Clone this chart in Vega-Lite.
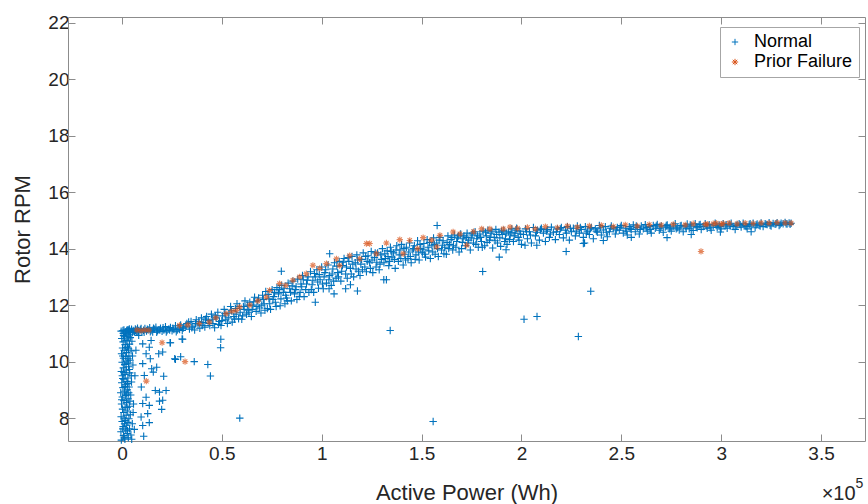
{
"$schema": "https://vega.github.io/schema/vega-lite/v6.json",
"width": 797, "height": 424,
"autosize": {"type": "none"},
"padding": {"left": 68, "top": 17, "right": 3, "bottom": 63},
"config": {
 "view": {"stroke": null},
 "font": "Liberation Sans",
 "axis": {"grid": false, "domainColor": "#8c8c8c", "tickColor": "#8c8c8c", "labelColor": "#262626", "titleColor": "#262626", "labelFontSize": 19, "titleFontSize": 22, "titleFontWeight": "normal", "tickSize": -7, "labelFont": "Liberation Sans", "titleFont": "Liberation Sans"},
 "legend": {"orient": "none", "legendX": 652, "legendY": 10, "padding": 6, "labelFontSize": 18, "labelFont": "Liberation Sans", "labelColor": "#000000", "symbolSize": 40, "symbolStrokeWidth": 1, "strokeColor": "#a6a6a6", "fillColor": "#ffffff", "rowPadding": 2, "labelOffset": 10}
},
"datasets": {
 "normal": [
{"P":3200,"R":11.12},{"P":4100,"R":11.08},{"P":4800,"R":11.15},{"P":5600,"R":11.1},{"P":6300,"R":11.05},{"P":7000,"R":11.13},{"P":7800,"R":11.18},{"P":8500,"R":11.09},{"P":9200,"R":11.14},{"P":10000,"R":11.06},{"P":10800,"R":11.11},{"P":11500,"R":11.17},{"P":12300,"R":11.08},{"P":13100,"R":11.13},{"P":13900,"R":11.2},{"P":14600,"R":11.1},{"P":15400,"R":11.05},{"P":16200,"R":11.15},{"P":17000,"R":11.22},{"P":17800,"R":11.09},{"P":18500,"R":11.13},{"P":19300,"R":11.18},{"P":20100,"R":11.07},{"P":21000,"R":11.12},{"P":21800,"R":11.24},{"P":22600,"R":11.1},{"P":23500,"R":11.16},{"P":24300,"R":11.21},{"P":25100,"R":11.09},{"P":26000,"R":11.14},{"P":26800,"R":11.27},{"P":27700,"R":11.12},{"P":28500,"R":11.19},{"P":29400,"R":11.3},{"P":30200,"R":11.1},{"P":31000,"R":11.22},
{"P":3700,"R":11.16},{"P":5200,"R":11.03},{"P":6700,"R":11.16},{"P":8000,"R":11.06},{"P":9600,"R":11.17},{"P":11100,"R":11.04},{"P":12700,"R":11.15},{"P":14200,"R":11.06},{"P":15800,"R":11.18},{"P":17400,"R":11.04},{"P":19000,"R":11.12},{"P":20600,"R":11.2},{"P":22200,"R":11.05},{"P":23900,"R":11.12},{"P":25500,"R":11.18},{"P":27200,"R":11.06},{"P":28900,"R":11.14},
{"P":32500,"R":11.35},{"P":33800,"R":11.15},{"P":34600,"R":11.42},{"P":35500,"R":11.25},{"P":36400,"R":11.12},{"P":37200,"R":11.48},{"P":38100,"R":11.3},
{"P":39000,"R":11.18},{"P":39800,"R":11.55},{"P":40700,"R":11.38},{"P":41500,"R":11.22},{"P":42400,"R":11.6},{"P":43200,"R":11.45},{"P":44000,"R":11.28},
{"P":44800,"R":11.68},{"P":45600,"R":11.35},{"P":46400,"R":11.2},{"P":47200,"R":11.55},{"P":48000,"R":11.75},{"P":48800,"R":11.42},
{"P":49600,"R":11.28},{"P":50400,"R":11.62},{"P":51200,"R":11.85},{"P":52000,"R":11.48},{"P":52800,"R":11.35},{"P":53600,"R":11.72},{"P":54400,"R":11.95},
{"P":30600,"R":11.18},{"P":32000,"R":11.25},{"P":33400,"R":11.4},{"P":35000,"R":11.2},{"P":36800,"R":11.35},{"P":38500,"R":11.42},{"P":40200,"R":11.28},{"P":41800,"R":11.5},{"P":43600,"R":11.35},{"P":45200,"R":11.5},{"P":46800,"R":11.62},{"P":48400,"R":11.32},{"P":50000,"R":11.45},{"P":51600,"R":11.7},{"P":53200,"R":11.55},{"P":54800,"R":11.8},
{"P":55200,"R":11.4},{"P":56000,"R":11.6},{"P":56800,"R":11.88},{"P":57600,"R":12.05},{"P":58400,"R":11.52},{"P":59200,"R":11.75},
{"P":60000,"R":11.5},{"P":60800,"R":11.95},{"P":61600,"R":12.15},{"P":62400,"R":11.68},{"P":63200,"R":11.82},{"P":64000,"R":12.1},
{"P":64800,"R":11.6},{"P":65600,"R":12.0},{"P":66400,"R":12.28},{"P":67200,"R":11.78},{"P":68000,"R":12.15},{"P":68800,"R":11.9},
{"P":69600,"R":11.72},{"P":70400,"R":12.35},{"P":71200,"R":12.05},{"P":72000,"R":12.48},{"P":72800,"R":11.88},{"P":73600,"R":12.22},
{"P":74400,"R":11.85},{"P":75200,"R":12.55},{"P":76000,"R":12.3},{"P":76800,"R":12.1},{"P":77600,"R":12.62},{"P":78400,"R":12.4},{"P":79200,"R":11.98},
{"P":80000,"R":12.7},{"P":80800,"R":12.45},{"P":81600,"R":12.05},{"P":82400,"R":12.25},{"P":83200,"R":12.78},{"P":84000,"R":12.58},
{"P":84800,"R":12.15},{"P":85600,"R":12.85},{"P":86400,"R":12.4},{"P":87200,"R":12.65},{"P":88000,"R":12.92},{"P":88800,"R":12.3},
{"P":89600,"R":12.75},{"P":90400,"R":13.05},{"P":91200,"R":12.3},{"P":92000,"R":12.55},{"P":92800,"R":12.88},{"P":93600,"R":12.45},
{"P":94400,"R":13.18},{"P":95200,"R":12.72},{"P":96000,"R":12.45},{"P":96800,"R":13.0},{"P":97600,"R":13.25},{"P":98400,"R":12.6},
{"P":56400,"R":11.5},{"P":57200,"R":11.68},{"P":58800,"R":11.95},{"P":60400,"R":11.62},{"P":61200,"R":11.85},{"P":62800,"R":12.0},{"P":63600,"R":11.75},{"P":65200,"R":11.85},{"P":66000,"R":12.12},{"P":67600,"R":11.95},{"P":68400,"R":12.25},{"P":70000,"R":12.0},{"P":70800,"R":12.2},{"P":71600,"R":11.82},{"P":73200,"R":12.38},{"P":74000,"R":12.05},{"P":75600,"R":12.2},{"P":76400,"R":12.45},{"P":77200,"R":11.95},{"P":78800,"R":12.55},{"P":79600,"R":12.22},{"P":81200,"R":12.6},{"P":82000,"R":12.35},{"P":82800,"R":12.15},{"P":84400,"R":12.45},{"P":85200,"R":12.68},{"P":86800,"R":12.55},{"P":87600,"R":12.2},{"P":89200,"R":12.45},{"P":90000,"R":12.65},{"P":90800,"R":12.9},{"P":92400,"R":12.75},{"P":93200,"R":13.0},{"P":94800,"R":12.55},{"P":95600,"R":12.88},{"P":96400,"R":13.12},{"P":98000,"R":12.82},{"P":98800,"R":13.08},
{"P":99200,"R":12.9},{"P":100000,"R":13.35},{"P":100800,"R":12.58},{"P":101600,"R":13.15},{"P":102400,"R":12.78},{"P":103200,"R":13.42},{"P":104000,"R":13.05},
{"P":104800,"R":12.7},{"P":105600,"R":13.28},{"P":106400,"R":13.5},{"P":107200,"R":12.95},{"P":108000,"R":13.15},{"P":108800,"R":13.55},
{"P":109600,"R":12.85},{"P":110400,"R":13.4},{"P":111200,"R":13.65},{"P":112000,"R":13.1},{"P":112800,"R":12.95},{"P":113600,"R":13.55},
{"P":114400,"R":13.3},{"P":115200,"R":13.72},{"P":116000,"R":13.0},{"P":116800,"R":13.5},{"P":117600,"R":13.78},{"P":118400,"R":13.2},
{"P":119200,"R":13.05},{"P":120000,"R":13.62},{"P":120800,"R":13.85},{"P":121600,"R":13.35},{"P":122400,"R":13.18},{"P":123200,"R":13.75},
{"P":124000,"R":13.5},{"P":124800,"R":13.9},{"P":125600,"R":13.15},{"P":126400,"R":13.68},{"P":127200,"R":13.35},{"P":128000,"R":13.85},
{"P":128800,"R":13.25},{"P":129600,"R":13.78},{"P":130400,"R":14.0},{"P":131200,"R":13.5},{"P":132000,"R":13.65},{"P":132800,"R":13.92},
{"P":133600,"R":13.4},{"P":134400,"R":14.05},{"P":135200,"R":13.7},{"P":136000,"R":13.85},{"P":136800,"R":13.3},{"P":137600,"R":14.1},
{"P":138400,"R":13.55},{"P":139200,"R":13.95},{"P":140000,"R":14.15},{"P":140800,"R":13.42},{"P":141600,"R":13.8},{"P":142400,"R":14.05},
{"P":143200,"R":13.65},{"P":144000,"R":14.2},{"P":144800,"R":13.5},{"P":145600,"R":13.95},{"P":146400,"R":14.1},{"P":147200,"R":13.78},
{"P":148000,"R":14.28},{"P":148800,"R":13.6},{"P":149600,"R":14.0},{"P":150400,"R":13.85},{"P":151200,"R":14.18},{"P":152000,"R":13.7},
{"P":152800,"R":14.32},{"P":153600,"R":13.92},{"P":154400,"R":13.65},{"P":155200,"R":14.1},{"P":156000,"R":14.38},{"P":156800,"R":13.8},
{"P":157600,"R":14.2},{"P":158400,"R":13.72},{"P":159200,"R":14.4},{"P":160000,"R":13.95},{"P":160800,"R":14.28},{"P":161600,"R":14.05},
{"P":162400,"R":13.8},{"P":163200,"R":14.45},{"P":164000,"R":14.15},{"P":164800,"R":14.32},{"P":165600,"R":13.95},{"P":166400,"R":14.48},
{"P":167200,"R":14.05},{"P":168000,"R":14.38},{"P":168800,"R":13.88},{"P":169600,"R":14.52},{"P":170400,"R":14.22},{"P":171200,"R":14.45},
{"P":172000,"R":14.1},{"P":172800,"R":14.55},{"P":173600,"R":14.3},{"P":174400,"R":13.95},{"P":175200,"R":14.48},{"P":176000,"R":14.2},
{"P":176800,"R":14.6},{"P":177600,"R":14.35},{"P":178400,"R":14.05},{"P":179200,"R":14.52},{"P":180000,"R":14.25},{"P":180800,"R":14.62},
{"P":181600,"R":14.1},{"P":182400,"R":14.45},{"P":183200,"R":14.65},{"P":184000,"R":14.3},{"P":184800,"R":14.55},{"P":185600,"R":14.02},
{"P":186400,"R":14.4},{"P":187200,"R":14.68},{"P":188000,"R":14.2},{"P":188800,"R":14.58},{"P":189600,"R":14.08},{"P":190400,"R":14.5},
{"P":191200,"R":14.65},{"P":192000,"R":14.35},{"P":192800,"R":14.15},{"P":193600,"R":14.6},{"P":194400,"R":14.48},{"P":195200,"R":14.7},
{"P":196000,"R":14.25},{"P":196800,"R":14.55},{"P":197600,"R":14.72},{"P":198400,"R":14.4},{"P":199200,"R":14.62},{"P":200000,"R":14.15},
{"P":100400,"R":12.75},{"P":101200,"R":13.0},{"P":102000,"R":13.25},{"P":103600,"R":12.9},{"P":105200,"R":13.1},{"P":106000,"R":12.85},{"P":107600,"R":13.38},{"P":108400,"R":13.0},{"P":110000,"R":13.2},{"P":110800,"R":13.52},{"P":112400,"R":13.35},{"P":113200,"R":13.68},{"P":114800,"R":13.1},{"P":115600,"R":13.45},{"P":117200,"R":13.28},{"P":118000,"R":13.6},{"P":119600,"R":13.45},{"P":120400,"R":13.25},{"P":122000,"R":13.72},{"P":122800,"R":13.55},{"P":124400,"R":13.3},{"P":125200,"R":13.6},{"P":126800,"R":13.85},{"P":127600,"R":13.52},{"P":129200,"R":13.45},{"P":130000,"R":13.62},{"P":131600,"R":13.82},{"P":133200,"R":13.72},{"P":134000,"R":13.55},{"P":134800,"R":13.9},{"P":136400,"R":13.62},{"P":137200,"R":13.95},{"P":138800,"R":13.78},{"P":139600,"R":13.65},{"P":141200,"R":14.0},{"P":142000,"R":13.6},{"P":143600,"R":13.88},{"P":144400,"R":13.72},{"P":146000,"R":14.0},{"P":146800,"R":13.62},{"P":148400,"R":13.88},{"P":149200,"R":14.15},{"P":150800,"R":13.98},{"P":151600,"R":13.8},{"P":153200,"R":14.05},{"P":154000,"R":14.22},{"P":155600,"R":13.88},{"P":156400,"R":14.15},{"P":158000,"R":14.0},{"P":158800,"R":14.3},{"P":160400,"R":14.12},{"P":161200,"R":13.82},{"P":162800,"R":14.22},{"P":163600,"R":14.0},{"P":165200,"R":14.4},{"P":166000,"R":14.1},{"P":167600,"R":14.25},{"P":168400,"R":14.45},{"P":170000,"R":14.0},{"P":170800,"R":14.35},{"P":172400,"R":14.4},{"P":173200,"R":14.2},{"P":174800,"R":14.38},{"P":175600,"R":14.55},{"P":177200,"R":14.15},{"P":178000,"R":14.45},{"P":179600,"R":14.4},{"P":180400,"R":14.05},{"P":182000,"R":14.58},{"P":182800,"R":14.22},{"P":184400,"R":14.4},{"P":185200,"R":14.62},{"P":186800,"R":14.28},{"P":187600,"R":14.5},{"P":189200,"R":14.38},{"P":190000,"R":14.62},{"P":191600,"R":14.25},{"P":192400,"R":14.55},{"P":194000,"R":14.32},{"P":194800,"R":14.58},{"P":196400,"R":14.45},{"P":197200,"R":14.65},{"P":198800,"R":14.3},{"P":199600,"R":14.52},
{"P":201000,"R":14.5},{"P":202000,"R":14.7},{"P":203000,"R":14.35},{"P":204000,"R":14.6},{"P":205000,"R":14.2},{"P":206000,"R":14.75},
{"P":207000,"R":14.45},{"P":208000,"R":14.65},{"P":209000,"R":14.3},{"P":210000,"R":14.72},{"P":211000,"R":14.55},{"P":212000,"R":14.25},
{"P":213000,"R":14.68},{"P":214000,"R":14.4},{"P":215000,"R":14.76},{"P":216000,"R":14.58},{"P":217000,"R":14.32},{"P":218000,"R":14.7},
{"P":219000,"R":14.5},{"P":220000,"R":14.75},{"P":221000,"R":14.38},{"P":222000,"R":14.65},{"P":223000,"R":14.78},{"P":224000,"R":14.3},
{"P":225000,"R":14.6},{"P":226000,"R":14.72},{"P":227000,"R":14.45},{"P":228000,"R":14.8},{"P":229000,"R":14.55},{"P":230000,"R":14.68},
{"P":231000,"R":14.4},{"P":232000,"R":14.78},{"P":233000,"R":14.62},{"P":234000,"R":14.5},{"P":235000,"R":14.75},{"P":236000,"R":14.35},
{"P":237000,"R":14.7},{"P":238000,"R":14.58},{"P":239000,"R":14.82},{"P":240000,"R":14.48},{"P":241000,"R":14.66},{"P":242000,"R":14.78},
{"P":243000,"R":14.42},{"P":244000,"R":14.6},{"P":245000,"R":14.8},{"P":246000,"R":14.7},{"P":247000,"R":14.52},{"P":248000,"R":14.75},
{"P":249000,"R":14.65},{"P":250000,"R":14.82},{"P":251000,"R":14.55},{"P":252000,"R":14.72},{"P":253000,"R":14.48},{"P":254000,"R":14.78},
{"P":255000,"R":14.68},{"P":256000,"R":14.84},{"P":257000,"R":14.6},{"P":258000,"R":14.75},{"P":259000,"R":14.52},{"P":260000,"R":14.8},
{"P":261000,"R":14.7},{"P":262000,"R":14.85},{"P":263000,"R":14.62},{"P":264000,"R":14.78},{"P":265000,"R":14.55},{"P":266000,"R":14.82},
{"P":267000,"R":14.72},{"P":268000,"R":14.86},{"P":269000,"R":14.65},{"P":270000,"R":14.8},{"P":271000,"R":14.58},{"P":272000,"R":14.76},
{"P":273000,"R":14.84},{"P":274000,"R":14.7},{"P":275000,"R":14.62},{"P":276000,"R":14.8},{"P":277000,"R":14.88},{"P":278000,"R":14.74},
{"P":279000,"R":14.66},{"P":280000,"R":14.82},{"P":281000,"R":14.6},{"P":282000,"R":14.77},{"P":283000,"R":14.87},{"P":284000,"R":14.7},
{"P":285000,"R":14.8},{"P":286000,"R":14.64},{"P":287000,"R":14.88},{"P":288000,"R":14.74},{"P":289000,"R":14.84},{"P":290000,"R":14.68},
{"P":291000,"R":14.78},{"P":292000,"R":14.88},{"P":293000,"R":14.72},{"P":294000,"R":14.85},{"P":295000,"R":14.65},{"P":296000,"R":14.8},
{"P":297000,"R":14.9},{"P":298000,"R":14.75},{"P":299000,"R":14.84},{"P":300000,"R":14.7},{"P":301000,"R":14.88},{"P":302000,"R":14.8},
{"P":303000,"R":14.72},{"P":304000,"R":14.86},{"P":305000,"R":14.9},{"P":306000,"R":14.78},{"P":307000,"R":14.68},{"P":308000,"R":14.84},
{"P":309000,"R":14.88},{"P":310000,"R":14.76},{"P":311000,"R":14.9},{"P":312000,"R":14.82},{"P":313000,"R":14.7},{"P":314000,"R":14.86},
{"P":315000,"R":14.8},{"P":316000,"R":14.9},{"P":317000,"R":14.74},{"P":318000,"R":14.87},{"P":319000,"R":14.83},{"P":320000,"R":14.91},
{"P":321000,"R":14.78},{"P":322000,"R":14.88},{"P":323000,"R":14.85},{"P":324000,"R":14.92},{"P":325000,"R":14.8},{"P":326000,"R":14.89},
{"P":327000,"R":14.86},{"P":328000,"R":14.92},{"P":329000,"R":14.82},{"P":330000,"R":14.9},{"P":331000,"R":14.88},{"P":332000,"R":14.93},{"P":333000,"R":14.87},{"P":334000,"R":14.91},{"P":335000,"R":14.9},
{"P":202500,"R":14.6},{"P":204500,"R":14.48},{"P":207500,"R":14.58},{"P":209500,"R":14.68},{"P":212500,"R":14.62},{"P":214500,"R":14.52},{"P":217500,"R":14.6},{"P":219500,"R":14.7},{"P":222500,"R":14.55},{"P":224500,"R":14.72},{"P":227500,"R":14.62},{"P":229500,"R":14.75},{"P":232500,"R":14.55},{"P":234500,"R":14.7},{"P":237500,"R":14.62},{"P":239500,"R":14.74},{"P":242500,"R":14.58},{"P":244500,"R":14.72},{"P":247500,"R":14.66},{"P":249500,"R":14.76},{"P":252500,"R":14.62},{"P":254500,"R":14.7},{"P":257500,"R":14.8},{"P":259500,"R":14.68},{"P":262500,"R":14.75},{"P":264500,"R":14.68},{"P":267500,"R":14.8},{"P":269500,"R":14.72},{"P":272500,"R":14.82},{"P":274500,"R":14.76},{"P":277500,"R":14.7},{"P":279500,"R":14.8},{"P":282500,"R":14.72},{"P":284500,"R":14.84},{"P":287500,"R":14.78},{"P":289500,"R":14.86},{"P":292500,"R":14.8},{"P":294500,"R":14.74},{"P":297500,"R":14.82},{"P":299500,"R":14.78},{"P":302500,"R":14.85},{"P":304500,"R":14.8},{"P":307500,"R":14.82},{"P":309500,"R":14.85},{"P":312500,"R":14.78},{"P":314500,"R":14.88},{"P":317500,"R":14.84},{"P":319500,"R":14.8},{"P":322500,"R":14.86},{"P":324500,"R":14.83},{"P":327500,"R":14.88},{"P":329500,"R":14.85},{"P":332500,"R":14.88},{"P":334500,"R":14.86},
{"P":192300,"R":13.96},{"P":201800,"R":14.12},{"P":207700,"R":14.12},{"P":231000,"R":14.18},{"P":241000,"R":14.29},{"P":272900,"R":14.39},{"P":299600,"R":14.59},{"P":255000,"R":14.4},{"P":285000,"R":14.5},{"P":315000,"R":14.6},
{"P":157800,"R":14.82},{"P":104000,"R":13.82},{"P":79800,"R":13.2},{"P":188900,"R":13.7},{"P":222400,"R":13.9},{"P":231600,"R":14.2},{"P":180600,"R":13.19},
{"P":132400,"R":12.9},{"P":131100,"R":12.9},{"P":117900,"R":12.5},{"P":106200,"R":12.4},{"P":96800,"R":12.1},{"P":103700,"R":12.58},{"P":112000,"R":12.58},{"P":114400,"R":12.72},
{"P":134300,"R":11.1},{"P":155800,"R":7.88},{"P":201300,"R":11.5},{"P":207800,"R":11.6},{"P":228500,"R":10.89},{"P":234700,"R":12.49},{"P":59000,"R":8.0},
{"P":24100,"R":10.67},{"P":30100,"R":10.8},{"P":26800,"R":10.08},{"P":29400,"R":10.17},{"P":36200,"R":10.0},{"P":43000,"R":9.9},{"P":44300,"R":9.49},{"P":49500,"R":10.79},{"P":49400,"R":10.49},{"P":20400,"R":10.34},{"P":18400,"R":10.28},{"P":14200,"R":10.1},{"P":14900,"R":9.75},{"P":17400,"R":9.8},{"P":20900,"R":9.48},{"P":15700,"R":9.63},{"P":16700,"R":8.98},{"P":18800,"R":8.92},{"P":18800,"R":8.6},{"P":19900,"R":8.31},{"P":13700,"R":8.45},{"P":12900,"R":8.16},{"P":13700,"R":7.84},{"P":10400,"R":7.74},{"P":10900,"R":7.36},{"P":9600,"R":8.04},{"P":10400,"R":8.52},{"P":12100,"R":8.74},{"P":9700,"R":9.1},{"P":11200,"R":9.51},{"P":10400,"R":9.93},{"P":12100,"R":10.28},{"P":13700,"R":10.51},{"P":10400,"R":10.63},{"P":14600,"R":10.75},{"P":8400,"R":10.93},{"P":22100,"R":8.98},{"P":20400,"R":8.63},{"P":30400,"R":10.79},{"P":26400,"R":10.1},{"P":24300,"R":10.67},
{"P":-300,"R":7.22},{"P":1500,"R":7.25},{"P":3200,"R":7.3},{"P":800,"R":7.38},{"P":2600,"R":7.45},{"P":4500,"R":7.4},{"P":-500,"R":7.52},{"P":1900,"R":7.58},{"P":3800,"R":7.62},{"P":600,"R":7.7},{"P":2400,"R":7.75},{"P":5200,"R":7.8},{"P":100,"R":7.88},{"P":1700,"R":7.92},{"P":3500,"R":7.98},{"P":-400,"R":8.05},{"P":2100,"R":8.1},{"P":4200,"R":8.12},{"P":900,"R":8.2},{"P":2900,"R":8.25},{"P":300,"R":8.32},{"P":1600,"R":8.38},{"P":3700,"R":8.42},{"P":-200,"R":8.5},{"P":2300,"R":8.55},{"P":5800,"R":8.5},{"P":1000,"R":8.62},{"P":3100,"R":8.68},{"P":200,"R":8.75},{"P":1900,"R":8.8},{"P":4400,"R":8.82},{"P":-600,"R":8.9},{"P":1300,"R":8.95},{"P":2700,"R":9.0},{"P":500,"R":9.08},{"P":3600,"R":9.1},{"P":1800,"R":9.18},{"P":-100,"R":9.25},{"P":2500,"R":9.3},{"P":4800,"R":9.28},{"P":900,"R":9.38},{"P":3000,"R":9.42},{"P":200,"R":9.5},{"P":1600,"R":9.55},{"P":3900,"R":9.6},{"P":-300,"R":9.65},{"P":2200,"R":9.7},{"P":700,"R":9.78},{"P":3300,"R":9.82},{"P":1400,"R":9.9},{"P":5500,"R":9.88},{"P":100,"R":9.98},{"P":2600,"R":10.02},{"P":4100,"R":10.05},{"P":800,"R":10.12},{"P":1900,"R":10.18},{"P":3500,"R":10.2},{"P":-200,"R":10.28},{"P":2300,"R":10.32},{"P":1100,"R":10.4},{"P":4600,"R":10.38},{"P":300,"R":10.48},{"P":2800,"R":10.52},{"P":1600,"R":10.6},{"P":3800,"R":10.62},{"P":600,"R":10.7},{"P":2100,"R":10.75},{"P":5000,"R":10.72},{"P":-100,"R":10.82},{"P":1300,"R":10.88},{"P":3200,"R":10.9},{"P":2500,"R":10.98},{"P":700,"R":11.0},{"P":4300,"R":11.02},{"P":1800,"R":11.05},{"P":-400,"R":11.08},{"P":3600,"R":11.1},{"P":1000,"R":11.12},{"P":6000,"R":11.08},{"P":2400,"R":11.1},{"P":6500,"R":9.5},{"P":7000,"R":10.4},{"P":5600,"R":8.2},{"P":6200,"R":7.6},{"P":4900,"R":7.25},
{"P":1200,"R":7.3},{"P":2800,"R":7.55},{"P":400,"R":7.62},{"P":3000,"R":7.85},{"P":1100,"R":8.0},{"P":2600,"R":8.38},{"P":-100,"R":8.65},{"P":3400,"R":8.9},{"P":1500,"R":9.12},{"P":2800,"R":9.22},{"P":400,"R":9.4},{"P":3700,"R":9.72},{"P":1000,"R":9.62},{"P":2100,"R":9.92},{"P":3000,"R":10.1},{"P":400,"R":10.2},{"P":3300,"R":10.45},{"P":1900,"R":10.5},{"P":2900,"R":10.8},{"P":800,"R":10.92},{"P":3900,"R":10.95},{"P":1500,"R":11.05},{"P":2700,"R":11.12},{"P":500,"R":11.1},{"P":4000,"R":8.6},{"P":4700,"R":9.5},{"P":5300,"R":10.2},{"P":1300,"R":7.8},{"P":2200,"R":8.85},{"P":3300,"R":9.95},{"P":4200,"R":10.85},{"P":6800,"R":11.1},{"P":7400,"R":11.07},{"P":8200,"R":11.1}
 ],
 "prior": [
{"P":7500,"R":11.12},{"P":9500,"R":11.1},{"P":11500,"R":11.12},{"P":13500,"R":11.11},{"P":12200,"R":9.31},{"P":20100,"R":10.67},{"P":31600,"R":10.0},{"P":28800,"R":11.28},{"P":33000,"R":11.3},{"P":38800,"R":11.35},{"P":43800,"R":11.4},{"P":47000,"R":11.55},{"P":52200,"R":11.7},{"P":55000,"R":11.78},{"P":57200,"R":11.81},{"P":58900,"R":11.93},{"P":64000,"R":12.0},{"P":68000,"R":12.15},{"P":72300,"R":12.28},{"P":73900,"R":12.52},{"P":78900,"R":12.76},{"P":82000,"R":12.7},{"P":85600,"R":12.88},{"P":89000,"R":13.0},{"P":92300,"R":13.11},{"P":95600,"R":13.41},{"P":99000,"R":13.3},{"P":102400,"R":13.47},{"P":107400,"R":13.64},{"P":109000,"R":13.4},{"P":114000,"R":13.75},{"P":119000,"R":13.64},{"P":122400,"R":14.18},{"P":124000,"R":14.18},{"P":127400,"R":13.82},{"P":132400,"R":14.2},{"P":139100,"R":14.32},{"P":140800,"R":13.82},{"P":144100,"R":14.29},{"P":148000,"R":14.0},{"P":150800,"R":14.39},{"P":155000,"R":14.3},{"P":157500,"R":14.06},{"P":159200,"R":14.47},{"P":165800,"R":14.59},{"P":169200,"R":14.52},{"P":172600,"R":14.12},{"P":176000,"R":14.6},{"P":180100,"R":14.7},{"P":184200,"R":14.7},{"P":190900,"R":14.7},{"P":194300,"R":14.76},{"P":198000,"R":14.72},{"P":203000,"R":14.75},{"P":207000,"R":14.7},{"P":212000,"R":14.78},{"P":218000,"R":14.74},{"P":223000,"R":14.8},{"P":228000,"R":14.76},{"P":234000,"R":14.8},{"P":240000,"R":14.82},{"P":246000,"R":14.78},{"P":252000,"R":14.84},{"P":258000,"R":14.8},{"P":264000,"R":14.85},{"P":270000,"R":14.83},{"P":276000,"R":14.86},{"P":282000,"R":14.84},{"P":286000,"R":14.88},{"P":289900,"R":13.9},{"P":292000,"R":14.86},{"P":296000,"R":14.88},{"P":300000,"R":14.87},{"P":304000,"R":14.9},{"P":308000,"R":14.88},{"P":312000,"R":14.9},{"P":316000,"R":14.89},{"P":320000,"R":14.91},{"P":324000,"R":14.9},{"P":328000,"R":14.92},{"P":332000,"R":14.91},{"P":335000,"R":14.9},{"P":293000,"R":14.87},{"P":297500,"R":14.9},{"P":301000,"R":14.89}
 ]
},
"resolve": {"axis": {"x": "independent", "y": "independent"}},
"layer": [
 {
  "data": {"values": [{"P": 0, "R": 10}]},
  "mark": {"type": "point", "opacity": 0},
  "encoding": {
   "x": {"field": "P", "type": "quantitative", "scale": {"domain": [-27000, 372000], "nice": false, "zero": false}, "axis": {"orient": "top", "labels": false, "title": null, "values": [0,50000,100000,150000,200000,250000,300000,350000]}},
   "y": {"field": "R", "type": "quantitative", "scale": {"domain": [7.19, 22.2], "nice": false, "zero": false}, "axis": {"orient": "right", "labels": false, "title": null, "values": [8,10,12,14,16,18,20,22]}}
  }
 },
 {
  "data": {"name": "normal"},
  "mark": {"type": "point", "filled": false, "strokeWidth": 1.1, "size": 55, "opacity": 1},
  "encoding": {
   "x": {"field": "P", "type": "quantitative", "scale": {"domain": [-27000, 372000], "nice": false, "zero": false}, "axis": {"orient": "bottom", "title": "Active Power (Wh)", "values": [0,50000,100000,150000,200000,250000,300000,350000], "labelExpr": "format(datum.value/100000, '~g')", "labelPadding": 10, "titleY": 51, "titleBaseline": "middle"}},
   "y": {"field": "R", "type": "quantitative", "scale": {"domain": [7.19, 22.2], "nice": false, "zero": false}, "axis": {"orient": "left", "title": "Rotor RPM", "values": [8,10,12,14,16,18,20,22], "labelPadding": 6, "titleX": -46, "titleBaseline": "middle"}},
   "color": {"datum": "Normal", "type": "nominal", "scale": {"domain": ["Normal", "Prior Failure"], "range": ["#0072BD", "#D95319"]}, "legend": {"title": null}},
   "shape": {"datum": "Normal", "type": "nominal", "scale": {"domain": ["Normal", "Prior Failure"], "range": ["M-1,0L1,0M0,-1L0,1", "M-1,0L1,0M0,-1L0,1M-0.7,-0.7L0.7,0.7M-0.7,0.7L0.7,-0.7"]}, "legend": {"title": null}}
  }
 },
 {
  "data": {"name": "prior"},
  "mark": {"type": "point", "filled": false, "strokeWidth": 1.1, "size": 40},
  "encoding": {
   "x": {"field": "P", "type": "quantitative", "axis": null},
   "y": {"field": "R", "type": "quantitative", "axis": null},
   "color": {"datum": "Prior Failure", "type": "nominal"},
   "shape": {"datum": "Prior Failure", "type": "nominal"}
  }
 },
 {
  "data": {"values": [{}]},
  "mark": {"type": "text", "text": "×10", "align": "right", "baseline": "alphabetic", "fontSize": 20, "font": "Liberation Sans", "color": "#262626"},
  "encoding": {"x": {"datum": 367300, "type": "quantitative", "axis": null}, "y": {"datum": 5.1, "type": "quantitative", "axis": null}}
 },
 {
  "data": {"values": [{}]},
  "mark": {"type": "text", "text": "5", "align": "left", "baseline": "alphabetic", "fontSize": 14, "font": "Liberation Sans", "color": "#262626"},
  "encoding": {"x": {"datum": 367300, "type": "quantitative", "axis": null}, "y": {"datum": 5.52, "type": "quantitative", "axis": null}}
 }
]
}
